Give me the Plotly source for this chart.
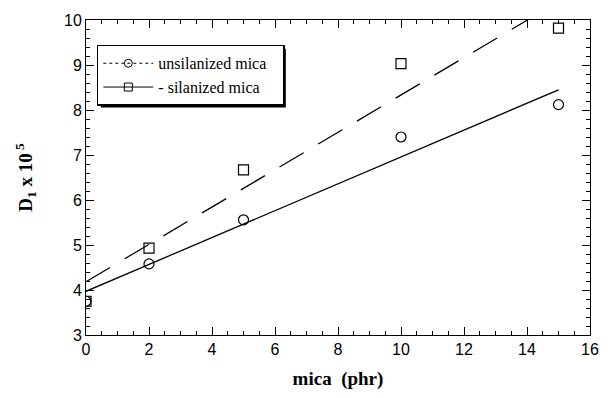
import numpy as np
import plotly.graph_objects as go

mica = [0, 2, 5, 10, 15]
unsilanized = [3.75, 4.58, 5.56, 7.40, 8.12]
silanized = [3.75, 4.93, 6.67, 9.03, 9.82]

W, H = 611, 398
ml, mr, mt, mb = 86, 13, 20, 61
pw, ph = W - ml - mr, H - mt - mb

def px2paper(x, y):
    return (x - ml) / pw, 1 - (y - mt) / ph

fig = go.Figure()

xs = np.array([0, 15])
for ys, dash in [(unsilanized, "solid"), (silanized, "28px,17px")]:
    k, b = np.polyfit(mica, ys, 1)
    fig.add_trace(go.Scatter(x=xs, y=k * xs + b, mode="lines",
                             line=dict(color="black", width=1.3, dash=dash),
                             showlegend=False, hoverinfo="skip"))

fig.add_trace(go.Scatter(x=mica, y=unsilanized, mode="markers",
                         marker=dict(symbol="circle-open", size=10, color="black", line=dict(width=1.2)),
                         showlegend=False))
fig.add_trace(go.Scatter(x=mica, y=silanized, mode="markers",
                         marker=dict(symbol="square-open", size=10, color="black", line=dict(width=1.2)),
                         showlegend=False))

pad = "\u00a0" * 3
fig.add_trace(go.Scatter(x=[None], y=[None], mode="lines+markers", name="unsilanized mica" + pad,
                         line=dict(color="black", width=1, dash="dot"),
                         marker=dict(symbol="circle-open", size=8, color="black", line=dict(width=1))))
fig.add_trace(go.Scatter(x=[None], y=[None], mode="lines+markers", name="- silanized mica" + pad,
                         line=dict(color="black", width=1),
                         marker=dict(symbol="square-open", size=8, color="black", line=dict(width=1))))

lx, ly = px2paper(97, 45)
sx0, sy0 = px2paper(101, 49)
sx1, sy1 = px2paper(289, 108)
fig.add_shape(type="rect", xref="paper", yref="paper", x0=sx0, y0=sy1, x1=sx1, y1=sy0,
              fillcolor="black", line=dict(width=0), layer="above")

tick_font = dict(family="Liberation Sans, Arial", size=16, color="black")
title_font = dict(family="Liberation Serif, Times New Roman", size=19, color="black")
common = dict(showline=True, linecolor="black", linewidth=1, mirror="ticks",
              ticks="inside", tickcolor="black", showgrid=False, zeroline=False)

fig.update_layout(
    width=W, height=H, margin=dict(l=ml, r=mr, t=mt, b=mb),
    plot_bgcolor="white",
    xaxis=dict(range=[0, 16], dtick=2, tickfont=tick_font, ticklen=8,
               title=dict(text="<b>mica  (phr)</b>", standoff=14, font=title_font), **common),
    yaxis=dict(range=[3, 10], dtick=1, tickfont=tick_font, ticklen=8,
               title=dict(text="<b>D<sub>1</sub> x 10<sup> 5</sup></b>", standoff=26, font=title_font),
               **common),
    xaxis2=dict(range=[0, 16], dtick=0.5, overlaying="x", side="bottom", anchor="y2",
                showticklabels=False, ticklen=4, **common),
    yaxis2=dict(range=[3, 10], dtick=0.2, overlaying="y", side="left", anchor="x2",
                showticklabels=False, ticklen=4, **common),
    legend=dict(x=lx, y=ly, xanchor="left", yanchor="top", bgcolor="white",
                bordercolor="black", borderwidth=1.5, tracegroupgap=0, itemwidth=50,
                font=dict(family="Liberation Serif, Times New Roman", size=16, color="black")),
)
fig.add_trace(go.Scatter(x=[0, 16], y=[3, 10], xaxis="x2", yaxis="y2", mode="markers",
                         marker=dict(color="rgba(0,0,0,0)"), showlegend=False, hoverinfo="skip"))

fig.write_html("out.html")
